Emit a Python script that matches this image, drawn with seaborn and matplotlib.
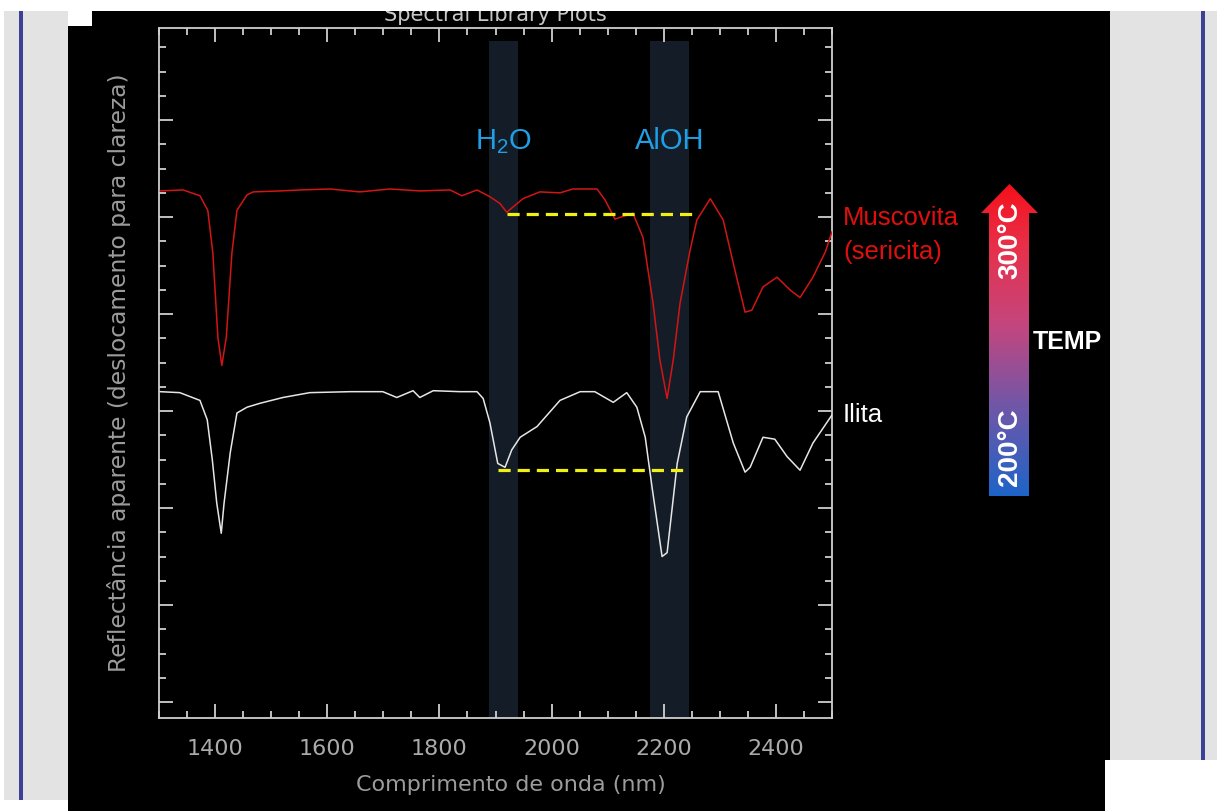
import numpy as np
import matplotlib.pyplot as plt
import seaborn as sns
from matplotlib.patches import Rectangle, Polygon
from matplotlib.colors import LinearSegmentedColormap
from matplotlib.ticker import MultipleLocator

# --- spectra (wavelength nm, apparent reflectance, offset) ---
musc_nm = [1302, 1343, 1373, 1387, 1396, 1405, 1412, 1420, 1430, 1439,
           1457, 1468, 1516, 1551, 1605, 1658, 1712, 1765, 1819, 1840,
           1867, 1890, 1908, 1920, 1949, 1979, 2015, 2038, 2081, 2095,
           2113, 2129, 2145, 2163, 2181, 2193, 2206, 2217, 2229, 2247,
           2259, 2283, 2306, 2327, 2345, 2357, 2377, 2402, 2425, 2443,
           2466, 2488, 2500]
musc_val = [0.527, 0.528, 0.522, 0.507, 0.463, 0.376, 0.347, 0.376, 0.463, 0.507,
            0.523, 0.526, 0.527, 0.528, 0.529, 0.526, 0.529, 0.527, 0.528, 0.522,
            0.528, 0.521, 0.514, 0.505, 0.519, 0.526, 0.525, 0.529, 0.529, 0.518,
            0.498, 0.501, 0.504, 0.479, 0.411, 0.353, 0.313, 0.353, 0.411, 0.466,
            0.497, 0.519, 0.497, 0.445, 0.402, 0.404, 0.428, 0.438, 0.425, 0.417,
            0.438, 0.464, 0.485]

ilita_nm = [1302, 1337, 1373, 1386, 1395, 1403, 1411, 1416, 1427, 1439,
            1457, 1480, 1521, 1569, 1641, 1699, 1724, 1753, 1765, 1789,
            1837, 1867, 1878, 1890, 1904, 1917, 1929, 1944, 1974, 2015,
            2051, 2077, 2110, 2134, 2152, 2167, 2179, 2197, 2206, 2224,
            2241, 2265, 2297, 2324, 2345, 2354, 2377, 2398, 2420, 2443,
            2466, 2500]
ilita_val = [0.320, 0.319, 0.311, 0.291, 0.250, 0.205, 0.174, 0.205, 0.257, 0.298,
             0.304, 0.308, 0.314, 0.319, 0.320, 0.320, 0.314, 0.321, 0.314, 0.321,
             0.320, 0.320, 0.313, 0.288, 0.246, 0.242, 0.260, 0.273, 0.284, 0.311,
             0.320, 0.320, 0.309, 0.319, 0.304, 0.273, 0.222, 0.150, 0.154, 0.246,
             0.294, 0.320, 0.320, 0.267, 0.237, 0.242, 0.273, 0.271, 0.253, 0.239,
             0.267, 0.296]

# absorption features
band_names = ['H$_2$O', 'AlOH']
band_lo = [1888, 2175]
band_hi = [1941, 2245]
band_top = 0.682

# yellow reference lines (start nm, end nm, level)
ref_start = [1921, 1904]
ref_end = [2257, 2239]
ref_level = [0.503, 0.239]

W, H = 1217, 811


def fx(x):
    return x / W


def fy(y):
    return 1 - y / H


def px_box(x0, y0, x1, y1):
    return [x0 / W, 1 - y1 / H, (x1 - x0) / W, (y1 - y0) / H]


def add_rect(x0, y0, x1, y1, color, z=-2):
    b = px_box(x0, y0, x1, y1)
    fig.add_artist(Rectangle((b[0], b[1]), b[2], b[3], transform=fig.transFigure,
                             facecolor=color, edgecolor='none', zorder=z))


sns.set_style('ticks')
plt.rcParams['font.family'] = ['DejaVu Sans']
plt.rcParams['mathtext.default'] = 'regular'

fig = plt.figure(figsize=(W / 100, H / 100), dpi=100, facecolor='white')

# slide background: marble side panels, black chart area
add_rect(4, 11, 68, 800, '#e3e3e3')
add_rect(19, 11, 23, 800, '#3d4196', z=-1)
add_rect(1110, 11, 1217, 760, '#e3e3e3')
add_rect(1201, 11, 1205, 760, '#3d4196', z=-1)
add_rect(92, 11, 1110, 760, 'black', z=-1)
add_rect(68, 26, 92, 811, 'black', z=-1)
add_rect(68, 760, 1105, 811, 'black', z=-1)

ax = fig.add_axes(px_box(159, 28, 832, 718))
ax.set_facecolor('black')
ax.set_xlim(1300, 2500)
ax.set_ylim(-0.0165, 0.695)

y0, y1 = ax.get_ylim()
for name, lo, hi in zip(band_names, band_lo, band_hi):
    ax.axvspan(lo, hi, ymin=0, ymax=(band_top - y0) / (y1 - y0),
               color='#141d27', lw=0, zorder=0)
    ax.text((lo + hi) / 2, 0.578, name, color='#1fa0e6', fontsize=21,
            family='Liberation Sans', ha='center', va='center')

sns.lineplot(x=musc_nm, y=musc_val, sort=False, estimator=None, color='#d41515',
             lw=1.1, ax=ax, zorder=3)
sns.lineplot(x=ilita_nm, y=ilita_val, sort=False, estimator=None, color='#e6e6e6',
             lw=1.1, ax=ax, zorder=3)

for xs, xe, lv in zip(ref_start, ref_end, ref_level):
    ax.hlines(lv, xs, xe, colors='#f0f014', linestyles=(0, (3.8, 2.2)), lw=2.3, zorder=4)

# axes styling
for s in ax.spines.values():
    s.set_color('#cfcfcf')
    s.set_linewidth(1.3)
ax.xaxis.set_major_locator(MultipleLocator(200))
ax.xaxis.set_minor_locator(MultipleLocator(50))
ax.yaxis.set_major_locator(MultipleLocator(0.1))
ax.yaxis.set_minor_locator(MultipleLocator(0.025))
ax.tick_params(which='both', direction='in', top=True, right=True, color='#cfcfcf',
               width=1.3, labelleft=False)
ax.tick_params(which='major', length=10)
ax.tick_params(which='minor', length=5)
ax.tick_params(axis='x', labelsize=16, labelcolor='#ababab', pad=15)
ax.set_xlabel('Comprimento de onda (nm)', color='#9c9c9c', fontsize=16)
ax.xaxis.set_label_coords(0.523, -0.083)
ax.set_ylabel('Reflectância aparente (deslocamento para clareza)', color='#9c9c9c',
              fontsize=16.8, labelpad=20)

# title, partly hidden by the slide's white top band
fig.text(fx(495), fy(21), 'Spectral Library Plots', color='#c8c8c8', fontsize=15,
         ha='center', va='baseline', zorder=1)
add_rect(0, 0, W, 11, 'white', z=5)

# curve labels
fig.text(fx(843), fy(218), 'Muscovita', color='#e00f0f', fontsize=18.5,
         family='Liberation Sans', va='center')
fig.text(fx(843), fy(252), '(sericita)', color='#e00f0f', fontsize=18.5,
         family='Liberation Sans', va='center')
fig.text(fx(843), fy(415), 'Ilita', color='white', fontsize=18.5,
         family='Liberation Sans', va='center')

# temperature arrow
ax2 = fig.add_axes(px_box(975, 180, 1045, 500))
ax2.set_xlim(975, 1045)
ax2.set_ylim(500, 180)
ax2.axis('off')
arrow = Polygon([(989, 496), (1029, 496), (1029, 213), (1038, 213), (1009.5, 184),
                 (981, 213), (989, 213)], closed=True, facecolor='none',
                edgecolor='none', transform=ax2.transData)
ax2.add_patch(arrow)
temp_cmap = LinearSegmentedColormap.from_list(
    'temp', [(0, '#1e64c8'), (0.3, '#7456a6'), (0.55, '#c4467e'), (0.8, '#e8304a'),
             (1, '#f5101a')])
grad = np.linspace(0, 1, 256).reshape(-1, 1)
im = ax2.imshow(grad, cmap=temp_cmap, extent=(981, 1038, 496, 184), origin='lower',
                aspect='auto')
im.set_clip_path(arrow)
ax2.text(1010, 240, '300°C', rotation=90, color='white', fontsize=20, fontweight='bold',
         family='Liberation Sans', ha='center', va='center')
ax2.text(1010, 447, '200°C', rotation=90, color='white', fontsize=20, fontweight='bold',
         family='Liberation Sans', ha='center', va='center')
fig.text(fx(1033), fy(342), 'TEMP', color='white', fontsize=18, fontweight='bold',
         family='Liberation Sans', va='center')

fig.savefig('out.png', dpi=100, facecolor='white')
